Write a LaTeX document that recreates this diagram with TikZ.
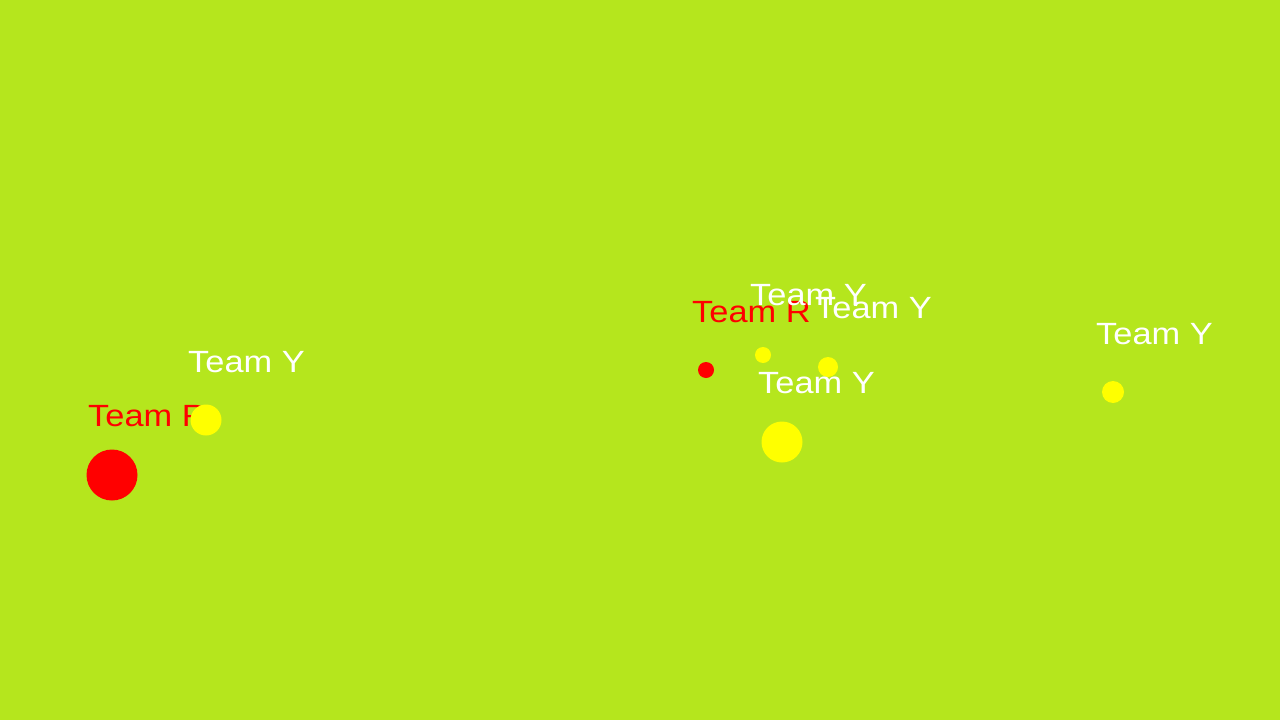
\documentclass[tikz,border=0pt]{standalone}
\usepackage{fontspec}
\setmainfont{Liberation Sans}
\definecolor{bggreen}{RGB}{181,230,29}
\definecolor{tred}{RGB}{255,0,0}
\definecolor{tyellow}{RGB}{255,255,0}
\begin{document}
\begin{tikzpicture}[x=1pt,y=-1pt,
  dot/.style={circle,inner sep=0pt,draw=none},
  reddot/.style={dot,fill=tred},
  yellowdot/.style={dot,fill=tyellow},
  lbl/.style={anchor=base west,inner sep=0pt,font=\fontsize{30.7}{32}\selectfont,xscale=1.12},
  redlbl/.style={lbl,text=tred},
  whitelbl/.style={lbl,text=white}]
\useasboundingbox (0,0) rectangle (1280,720);
\fill[bggreen] (0,0) rectangle (1280,720);
% left cluster
\node[reddot,minimum size=51pt] (r1) at (112,475) {};
\node[redlbl] (lr1) at (88,426) {Team R};
\node[yellowdot,minimum size=31pt] (y1) at (206,420) {};
\node[whitelbl] (ly1) at (188,372) {Team Y};
% middle cluster
\node[reddot,minimum size=16pt] (r2) at (706,370) {};
\node[redlbl] (lr2) at (692,322) {Team R};
\node[yellowdot,minimum size=16pt] (y2) at (763,355) {};
\node[whitelbl] (ly2) at (750,305) {Team Y};
\node[yellowdot,minimum size=20pt] (y3) at (828,367) {};
\node[whitelbl] (ly3) at (815,318) {Team Y};
\node[yellowdot,minimum size=41pt] (y4) at (782,442) {};
\node[whitelbl] (ly4) at (758,393) {Team Y};
% right
\node[yellowdot,minimum size=22pt] (y5) at (1113,392) {};
\node[whitelbl] (ly5) at (1096,344) {Team Y};
\end{tikzpicture}
\end{document}
